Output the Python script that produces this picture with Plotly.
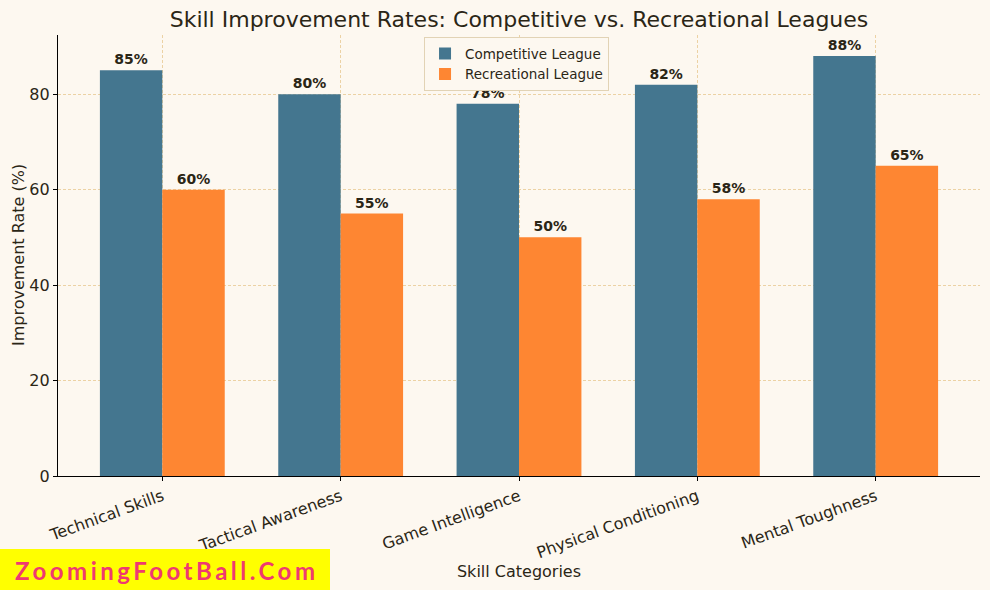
import plotly.graph_objects as go

categories = ["Technical Skills", "Tactical Awareness", "Game Intelligence",
              "Physical Conditioning", "Mental Toughness"]
competitive = [85, 80, 78, 82, 88]
recreational = [60, 55, 50, 58, 65]
series_names = ["Competitive League", "Recreational League"]
y_ticks = [0, 20, 40, 60, 80]

BG = "#fdf8f0"
TXT = "#2b2616"
GRID = "#ecd2a4"
FONT = "DejaVu Sans"

fig = go.Figure()
for name, vals, col in [(series_names[0], competitive, "#44768f"),
                        (series_names[1], recreational, "#fe8632")]:
    fig.add_trace(go.Bar(
        x=categories, y=vals, name=name, marker_color=col,
        marker_line_width=0,
        text=[f"{v}%" for v in vals], textposition="outside",
        textfont=dict(family=FONT, size=14, color=TXT, weight="bold"),
        cliponaxis=False,
    ))

fig.update_layout(
    width=990, height=590,
    paper_bgcolor=BG, plot_bgcolor=BG,
    margin=dict(l=58, r=10, t=35, b=114),
    barmode="group", bargap=0.3, bargroupgap=0,
    font=dict(family=FONT, color=TXT),
    title=dict(text="Skill Improvement Rates: Competitive vs. Recreational Leagues",
               x=(58 + 461) / 990, xanchor="center", y=1 - 19 / 590, yanchor="middle",
               font=dict(family=FONT, size=22, color=TXT)),
    legend=dict(x=0.397, y=0.995, xanchor="left", yanchor="top",
                bgcolor=BG, bordercolor="#e2d3b5", borderwidth=1,
                itemwidth=30,
                font=dict(family=FONT, size=13.5, color=TXT)),
)
fig.update_xaxes(
    range=[-0.585, 4.585], tickangle=-20, automargin=False,
    tickfont=dict(family=FONT, size=16, color=TXT),
    showline=True, linecolor="black", linewidth=1.2,
    ticks="outside", ticklen=4, tickcolor="black",
    showgrid=True, gridcolor=GRID, griddash="3px,2px", gridwidth=0.8,
    title=dict(text="Skill Categories", font=dict(family=FONT, size=16, color=TXT), standoff=4),
)
fig.update_yaxes(
    range=[0, 92.4], tickvals=y_ticks, automargin=False,
    tickfont=dict(family=FONT, size=16, color=TXT),
    showline=True, linecolor="black", linewidth=1.2,
    ticks="outside", ticklen=4, tickcolor="black",
    showgrid=True, gridcolor=GRID, griddash="3px,2px", gridwidth=0.8,
    zeroline=False,
)
fig.add_annotation(text="Improvement Rate (%)", xref="paper", yref="paper",
                   x=(18 - 58) / 922, y=(476 - 255) / 441, textangle=-90,
                   xanchor="center", yanchor="middle", showarrow=False,
                   font=dict(family=FONT, size=16, color=TXT))

fig.add_shape(type="rect", xref="paper", yref="paper",
              x0=-58 / 922, x1=(330 - 58) / 922,
              y0=-114 / 441, y1=-(549 - 476) / 441,
              fillcolor="#ffff00", line_width=0, layer="above")
fig.add_annotation(text='<span style="letter-spacing:3.5px">ZoomingFootBall.Com</span>',
                   xref="paper", yref="paper",
                   x=(167 - 58) / 922, y=-(570 - 476) / 441,
                   xanchor="center", yanchor="middle", showarrow=False,
                   font=dict(family="Lato", size=24, color="#ef3a70", weight="bold"))

fig.write_html("out.html", config={"displayModeBar": False},
               post_script="document.body.style.margin='0';")
